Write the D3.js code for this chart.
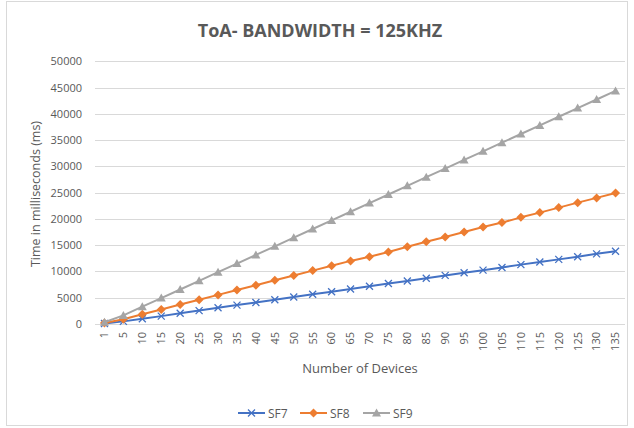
<!DOCTYPE html>
<html><head><meta charset="utf-8">
<script src="https://cdn.jsdelivr.net/npm/d3@7"></script>
<style>body{margin:0;background:#fff}svg{display:block}text{font-family:"Open Sans","Liberation Sans",sans-serif}</style>
</head><body><svg id="c" width="634" height="428"></svg>
<script>
const categories = [1,5,10,15,20,25,30,35,40,45,50,55,60,65,70,75,80,85,90,95,100,105,110,115,120,125,130,135];
const sf7 = [100,500,1000,1500,2050,2550,3100,3600,4100,4600,5150,5650,6150,6650,7200,7700,8200,8700,9250,9750,10250,10750,11300,11800,12300,12800,13350,13850];
const sf8 = [190,920,1850,2770,3700,4620,5540,6470,7390,8320,9240,10160,11090,12010,12800,13700,14700,15650,16550,17500,18450,19300,20300,21200,22150,23100,24000,24950];
const sf9 = [330,1640,3290,4930,6570,8220,9860,11500,13150,14790,16430,18080,19720,21360,23010,24650,26300,27940,29580,31230,32870,34510,36160,37800,39440,41090,42730,44370];
const yTicks = [0,5000,10000,15000,20000,25000,30000,35000,40000,45000,50000];
const seriesNames = ["SF7","SF8","SF9"];
const colors = ["#4472C4","#ED7D31","#A5A5A5"];

const svg = d3.select("#c");
const L = 95, R = 625, T = 61.3, B = 324;
const x = d3.scaleBand().domain(categories).range([L, R]);
const y = d3.scaleLinear().domain([0, 50000]).range([B, T]);

svg.append("rect").attr("x",6.5).attr("y",1.5).attr("width",621).attr("height",424)
  .attr("fill","none").attr("stroke","#d9d9d9");

svg.append("text").attr("x",320).attr("y",37).attr("text-anchor","middle")
  .attr("font-size",18).attr("font-weight","bold").attr("fill","#595959")
  .text("ToA- BANDWIDTH = 125KHZ");

// gridlines
svg.append("g").selectAll("line").data(yTicks).join("line")
  .attr("x1",L).attr("x2",R).attr("y1",d=>Math.round(y(d))+0.5).attr("y2",d=>Math.round(y(d))+0.5)
  .attr("stroke","#d9d9d9").attr("stroke-width",1);

// y axis
const ya = svg.append("g").attr("transform",`translate(${L},0)`)
  .call(d3.axisLeft(y).tickValues(yTicks).tickSize(0).tickPadding(13).tickFormat(d3.format("d")));
ya.select(".domain").remove();
ya.selectAll("text").attr("font-size",11).attr("fill","#595959").style("font-family",'"Open Sans","Liberation Sans",sans-serif');

// x axis
const xa = svg.append("g").attr("transform",`translate(0,${B})`)
  .call(d3.axisBottom(x).tickSize(0).tickPadding(0));
xa.select(".domain").remove();
xa.selectAll("text").attr("font-size",11).attr("fill","#595959")
  .attr("transform","rotate(-90)").attr("text-anchor","end").attr("dx","-8").attr("dy","0.35em").attr("y",0)
  .style("font-family",'"Open Sans","Liberation Sans",sans-serif');

svg.append("text").attr("transform","translate(40,194) rotate(-90)").attr("text-anchor","middle")
  .attr("font-size",12.5).attr("fill","#595959").text("Time in milliseconds (ms)");
svg.append("text").attr("x",360).attr("y",373).attr("text-anchor","middle")
  .attr("font-size",13).attr("fill","#595959").text("Number of Devices");

const data = [sf7, sf8, sf9];
const cx = i => x(categories[i]) + x.bandwidth()/2;
const line = d3.line().x((d,i)=>cx(i)).y(d=>y(d));

function marker(g, type, color){
  if(type===0){
    g.append("path").attr("d","M-3.5,-3.5L3.5,3.5M-3.5,3.5L3.5,-3.5").attr("stroke",color).attr("stroke-width",1.3).attr("fill","none");
  } else if(type===1){
    g.append("path").attr("d","M0,-4.5L4.5,0L0,4.5L-4.5,0Z").attr("fill",color);
  } else {
    g.append("path").attr("d","M0,-4.5L4.5,3.5L-4.5,3.5Z").attr("fill",color);
  }
}

data.forEach((vals, s) => {
  svg.append("path").datum(vals).attr("d",line).attr("fill","none")
    .attr("stroke",colors[s]).attr("stroke-width",2).attr("stroke-linejoin","round");
  vals.forEach((v,i)=>{
    const g = svg.append("g").attr("transform",`translate(${cx(i)},${y(v)})`);
    marker(g, s, colors[s]);
  });
});

// legend
const legX = [238, 300, 363];
seriesNames.forEach((n,s)=>{
  const g = svg.append("g").attr("transform",`translate(${legX[s]},413)`);
  g.append("line").attr("x1",0).attr("x2",27).attr("y1",0).attr("y2",0).attr("stroke",colors[s]).attr("stroke-width",2);
  const m = g.append("g").attr("transform","translate(13.5,0)");
  marker(m, s, colors[s]);
  g.append("text").attr("x",30).attr("y",4.5).attr("font-size",12).attr("fill","#595959").text(n);
});
</script></body></html>
